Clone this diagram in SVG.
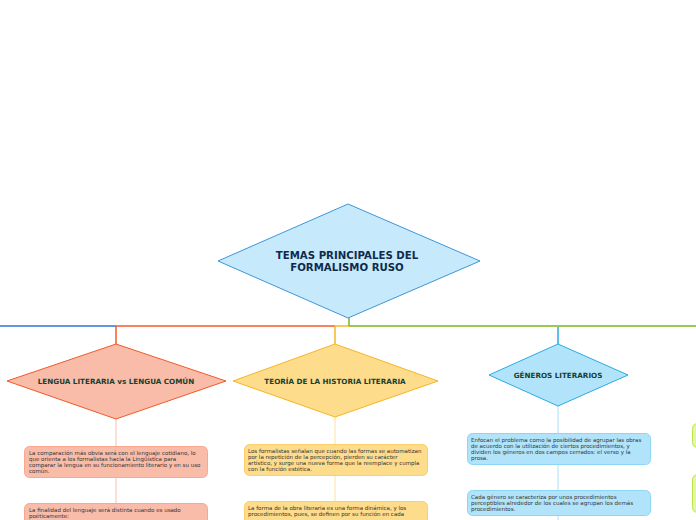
<svg xmlns="http://www.w3.org/2000/svg" width="696" height="520" viewBox="0 0 696 520">
<style>
.title{font-family:"DejaVu Sans","Liberation Sans",sans-serif;font-weight:bold;font-size:10.2px;fill:#0f2a4d;text-anchor:middle}
.dt{font-family:"DejaVu Sans","Liberation Sans",sans-serif;font-weight:bold;font-size:7.2px;fill:#17402e;text-anchor:middle}
.bt{font-family:"DejaVu Sans","Liberation Sans",sans-serif;font-size:5.5px;fill:#333}
.c{fill:none;stroke-width:1.5}
.thin{fill:none;stroke-width:1}
</style>
<rect width="696" height="520" fill="#fff"/>
<g id="connectors">
<line class="c" x1="0" y1="326" x2="116" y2="326" stroke="#2a74d6"/>
<line class="c" x1="116" y1="326" x2="335" y2="326" stroke="#f15a29"/>
<line class="c" x1="116" y1="326" x2="116" y2="344" stroke="#f15a29"/>
<line class="c" x1="335" y1="326" x2="349" y2="326" stroke="#f7b524"/>
<line class="c" x1="335" y1="326" x2="335" y2="344" stroke="#f7b524"/>
<line class="c" x1="349" y1="318" x2="349" y2="326" stroke="#7ab51d"/>
<line class="c" x1="349" y1="326" x2="696" y2="326" stroke="#7ab51d"/>
<line class="c" x1="558" y1="327" x2="558" y2="344" stroke="#29abe2"/>
<line class="thin" x1="116" y1="419" x2="116" y2="446" stroke="#f9c0ad"/>
<line class="thin" x1="116" y1="477" x2="116" y2="503" stroke="#f9c0ad"/>
<line class="thin" x1="335" y1="417" x2="335" y2="444" stroke="#fde0a0"/>
<line class="thin" x1="335" y1="475" x2="335" y2="501" stroke="#fde0a0"/>
<line class="thin" x1="558" y1="406" x2="558" y2="433" stroke="#a8e0f7"/>
<line class="thin" x1="558" y1="464" x2="558" y2="490" stroke="#a8e0f7"/>
<line class="thin" x1="558" y1="515" x2="558" y2="520" stroke="#a8e0f7"/>
</g>
<g id="root">
<polygon points="348,204 480,261 348,318 218,261" fill="#c6eafb" stroke="#3d96d8" stroke-width="1"/>
<text class="title" x="347" y="259">TEMAS PRINCIPALES DEL</text>
<text class="title" x="347" y="271">FORMALISMO RUSO</text>
</g>
<g id="lengua">
<polygon points="116,344 226,381 116,419 7,381" fill="#f9bca9" stroke="#f15a29" stroke-width="1"/>
<text class="dt" x="116" y="383.5">LENGUA LITERARIA vs LENGUA COMÚN</text>
</g>
<g id="teoria">
<polygon points="335,344 438,381 335,417 233,381" fill="#fddc8c" stroke="#f7b524" stroke-width="1"/>
<text class="dt" x="335" y="383.5">TEORÍA DE LA HISTORIA LITERARIA</text>
</g>
<g id="generos">
<polygon points="558,344 628,375 558,406 489,375" fill="#b1e4fa" stroke="#29abe2" stroke-width="1"/>
<text class="dt" x="558" y="377.5">GÉNEROS LITERARIOS</text>
</g>
<g id="lengua-1">
<rect x="24.5" y="446.5" width="183" height="31" rx="5" fill="#f9bca9" stroke="#f9a88f"/>
<text class="bt" x="29" y="454.5">La comparación más obvia será con el lenguaje cotidiano, lo</text>
<text class="bt" x="29" y="460.8">que orienta a los formalistas hacia la Lingüística para</text>
<text class="bt" x="29" y="467.1">comparar la lengua en su funcionamiento literario y en su uso</text>
<text class="bt" x="29" y="473.4">común.</text>
</g>
<g id="lengua-2">
<rect x="24.5" y="503.5" width="183" height="30" rx="5" fill="#f9bca9" stroke="#f9a88f"/>
<text class="bt" x="29" y="511.5">La finalidad del lenguaje será distinta cuando es usado</text>
<text class="bt" x="29" y="517.8">poéticamente:</text>
</g>
<g id="teoria-1">
<rect x="244.5" y="444.5" width="183" height="31" rx="5" fill="#fddc8c" stroke="#fccf6a"/>
<text class="bt" x="248" y="452.5">Los formalistas señalan que cuando las formas se automatizan</text>
<text class="bt" x="248" y="458.8">por la repetición de la percepción, pierden su carácter</text>
<text class="bt" x="248" y="465.1">artístico, y surge una nueva forma que la reemplace y cumpla</text>
<text class="bt" x="248" y="471.4">con la función estética.</text>
</g>
<g id="teoria-2">
<rect x="244.5" y="501.5" width="183" height="30" rx="5" fill="#fddc8c" stroke="#fccf6a"/>
<text class="bt" x="248" y="509.5">La forma de la obra literaria es una forma dinámica, y los</text>
<text class="bt" x="248" y="515.8">procedimientos, pues, se definen por su función en cada</text>
</g>
<g id="generos-1">
<rect x="467.5" y="433.5" width="183" height="31" rx="5" fill="#b1e4fa" stroke="#8dd6f6"/>
<text class="bt" x="471" y="441.5">Enfocan el problema como la posibilidad de agrupar las obras</text>
<text class="bt" x="471" y="447.8">de acuerdo con la utilización de ciertos procedimientos, y</text>
<text class="bt" x="471" y="454.1">dividen los géneros en dos campos cerrados: el verso y la</text>
<text class="bt" x="471" y="460.4">prosa.</text>
</g>
<g id="generos-2">
<rect x="467.5" y="490.5" width="183" height="25" rx="5" fill="#b1e4fa" stroke="#8dd6f6"/>
<text class="bt" x="471" y="498.5">Cada género se caracteriza por unos procedimientos</text>
<text class="bt" x="471" y="504.8">perceptibles alrededor de los cuales se agrupan los demás</text>
<text class="bt" x="471" y="511.1">procedimientos.</text>
</g>
<g id="right-1">
<rect x="692.5" y="423.5" width="20" height="24" rx="5" fill="#e2f7a6" stroke="#bde64a"/>
</g>
<g id="right-2">
<rect x="692.5" y="474.5" width="20" height="38" rx="5" fill="#e2f7a6" stroke="#bde64a"/>
</g>
</svg>
